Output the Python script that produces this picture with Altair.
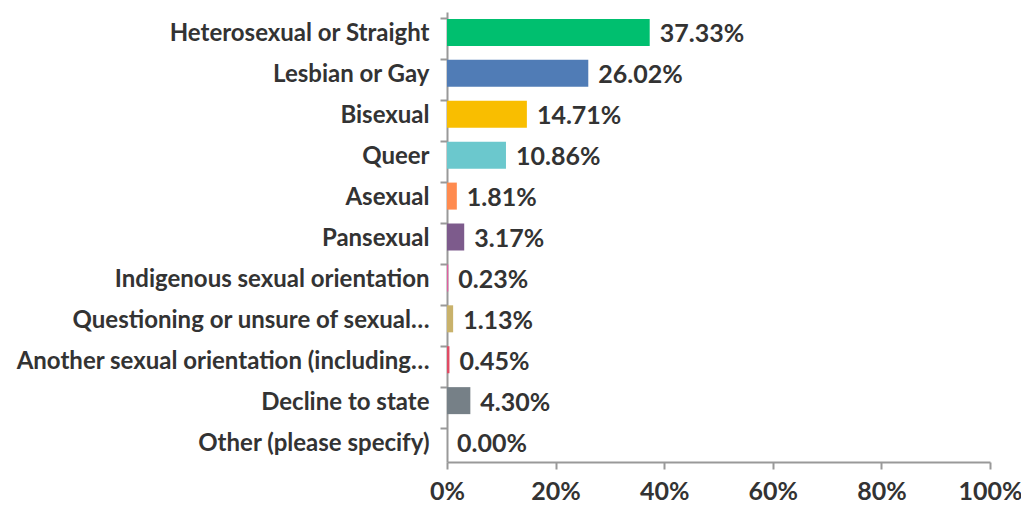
import altair as alt
import pandas as pd

categories = [
    "Heterosexual or Straight",
    "Lesbian or Gay",
    "Bisexual",
    "Queer",
    "Asexual",
    "Pansexual",
    "Indigenous sexual orientation",
    "Questioning or unsure of sexual…",
    "Another sexual orientation (including…",
    "Decline to state",
    "Other (please specify)",
]
values = [37.33, 26.02, 14.71, 10.86, 1.81, 3.17, 0.23, 1.13, 0.45, 4.30, 0.00]
colors = ["#00BF6F", "#507CB6", "#F9BE00", "#6BC8CD", "#FF8B4F", "#7D5B8C",
          "#E05FA0", "#C9B26B", "#E04B64", "#768087", "#FFFFFF"]

df = pd.DataFrame({"cat": categories, "val": [v / 100 for v in values],
                   "label": [f"{v:.2f}%" for v in values], "color": colors})

FONT = "Lato"
FS = 25

y = alt.Y("cat:N", sort=categories, title=None,
          scale=alt.Scale(paddingInner=0.34, paddingOuter=0.17),
          axis=alt.Axis(labelFont=FONT, labelFontSize=24, labelFontWeight="bold",
                        labelColor="#333333", labelPadding=11, labelLimit=460,
                        labelOffset=2,
                        domainColor="#999999", domainWidth=2, tickColor="#999999",
                        tickWidth=2, tickSize=7, bandPosition=0, ticks=True))
x = alt.X("val:Q", title=None,
          scale=alt.Scale(domain=[0, 1]),
          axis=alt.Axis(format="%", values=[0, 0.2, 0.4, 0.6, 0.8, 1.0], grid=False,
                        labelFont=FONT, labelFontSize=FS, labelFontWeight="bold",
                        labelColor="#333333", labelPadding=10, labelFlush=False,
                        domainColor="#999999", domainWidth=2, tickColor="#999999",
                        tickWidth=2, tickSize=7))

bars = alt.Chart(df).mark_bar().encode(
    x=x, y=y, color=alt.Color("color:N", scale=None))
text = alt.Chart(df).mark_text(align="left", dx=10, dy=2, font=FONT, fontSize=FS,
                               fontWeight="bold", color="#333333").encode(
    x="val:Q", y=alt.Y("cat:N", sort=categories), text="label:N")

chart = (bars + text).properties(
    width=543, height=450,
    background="white",
    autosize=alt.AutoSizeParams(type="none"),
    padding={"left": 439, "top": 4, "right": 31, "bottom": 44},
).configure_view(stroke=None)

chart.save("out.html", embed_options={"renderer": "svg", "actions": False})
